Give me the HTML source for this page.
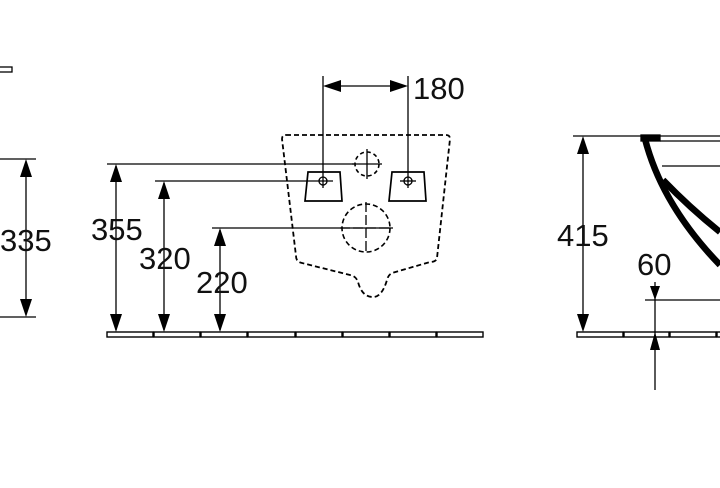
<!DOCTYPE html>
<html><head><meta charset="utf-8"><style>
html,body{margin:0;padding:0;background:#fff;}
svg{display:block}
text{font-family:"Liberation Sans",sans-serif;font-size:31px;fill:#111}
</style></head><body>
<svg width="720" height="488" viewBox="0 0 720 488" xmlns="http://www.w3.org/2000/svg">
<g stroke="#000" stroke-width="1.3" fill="none">
<!-- left -->
<rect x="-2" y="67" width="14" height="5"/>
<line x1="0" y1="159" x2="36" y2="159"/>
<line x1="0" y1="317" x2="36" y2="317"/>
<line x1="26" y1="162" x2="26" y2="314"/>
<path d="M26,159 l-6,18 h12z M26,317 l-6,-18 h12z" fill="#000" stroke="none"/>
<!-- middle floor -->
<g stroke-width="1.4">
<rect x="107" y="332" width="46" height="5"/><rect x="154" y="332" width="46" height="5"/><rect x="201" y="332" width="46" height="5"/><rect x="248" y="332" width="47" height="5"/><rect x="296" y="332" width="46" height="5"/><rect x="343" y="332" width="46" height="5"/><rect x="390" y="332" width="46" height="5"/><rect x="437" y="332" width="46" height="5"/>
</g>
<line x1="107" y1="164" x2="354" y2="164"/>
<line x1="116" y1="166" x2="116" y2="330"/>
<line x1="155" y1="181" x2="333" y2="181"/>
<line x1="164" y1="183" x2="164" y2="330"/>
<line x1="212" y1="228" x2="393" y2="228"/>
<line x1="220" y1="230" x2="220" y2="330"/>
<path d="M116,164 l-6,18 h12z M116,332 l-6,-18 h12z M164,181 l-6,18 h12z M164,332 l-6,-18 h12z M220,228 l-6,18 h12z M220,332 l-6,-18 h12z" fill="#000" stroke="none"/>
<!-- 180 -->
<line x1="323" y1="76" x2="323" y2="188"/>
<line x1="408" y1="76" x2="408" y2="188"/>
<line x1="326" y1="86" x2="405" y2="86"/>
<path d="M323,86 l18,-6 v12z M408,86 l-18,-6 v12z" fill="#000" stroke="none"/>
<!-- outline -->
<path d="M286,135 H446 Q450,135 450,139 L437,258 Q436,262 430,262 L392,273 Q388,275 387,280 Q382,297 373,297 Q362,297 358,282 Q356,276 350,275 L302,263 Q296,262 296,256 L282,139 Q282,135 286,135 Z" stroke-dasharray="5,3" stroke-width="1.8"/>
<circle cx="367" cy="164" r="12" stroke-dasharray="4,3" stroke-width="1.6"/>
<path d="M367,149 v30 M352,164 h30"/>
<circle cx="366" cy="228" r="24" stroke-dasharray="5,3" stroke-width="1.6"/>
<path d="M366,202 v52 M340,228 h52" stroke-dasharray="10,3"/>
<path d="M308,172 H340 L342,201 H305 Z" stroke-width="1.7"/>
<circle cx="323" cy="181" r="4"/>
<path d="M392,172 H424 L426,201 H389 Z" stroke-width="1.7"/>
<circle cx="408" cy="181" r="4"/>
<path d="M400,181 h16"/>
<!-- right -->
<g stroke-width="1.4">
<rect x="577" y="332" width="46" height="5"/><rect x="624" y="332" width="45" height="5"/><rect x="670" y="332" width="46" height="5"/><rect x="717" y="332" width="10" height="5"/>
</g>
<line x1="573" y1="136" x2="720" y2="136"/>
<line x1="660" y1="141" x2="720" y2="141"/>
<line x1="662" y1="166" x2="720" y2="166"/>
<line x1="583" y1="139" x2="583" y2="329"/>
<path d="M583,136 l-6,18 h12z M583,332 l-6,-18 h12z" fill="#000" stroke="none"/>
<line x1="645" y1="300" x2="720" y2="300"/>
<line x1="655" y1="282" x2="655" y2="390"/>
<path d="M655,300 l-5,-14 h10z M655,332 l-5,18 h10z" fill="#000" stroke="none"/>
<rect x="641" y="135" width="19" height="6" fill="#000"/>
<path d="M645,139 Q662,205 720,265" stroke-width="6.5"/>
<path d="M663,180 Q690,208 720,232" stroke-width="6.5"/>
</g>
<text x="0" y="251">335</text>
<text x="91" y="240">355</text>
<text x="139" y="269">320</text>
<text x="196" y="293">220</text>
<text x="413" y="99">180</text>
<text x="557" y="246">415</text>
<text x="637" y="275">60</text>
</svg>
</body></html>
